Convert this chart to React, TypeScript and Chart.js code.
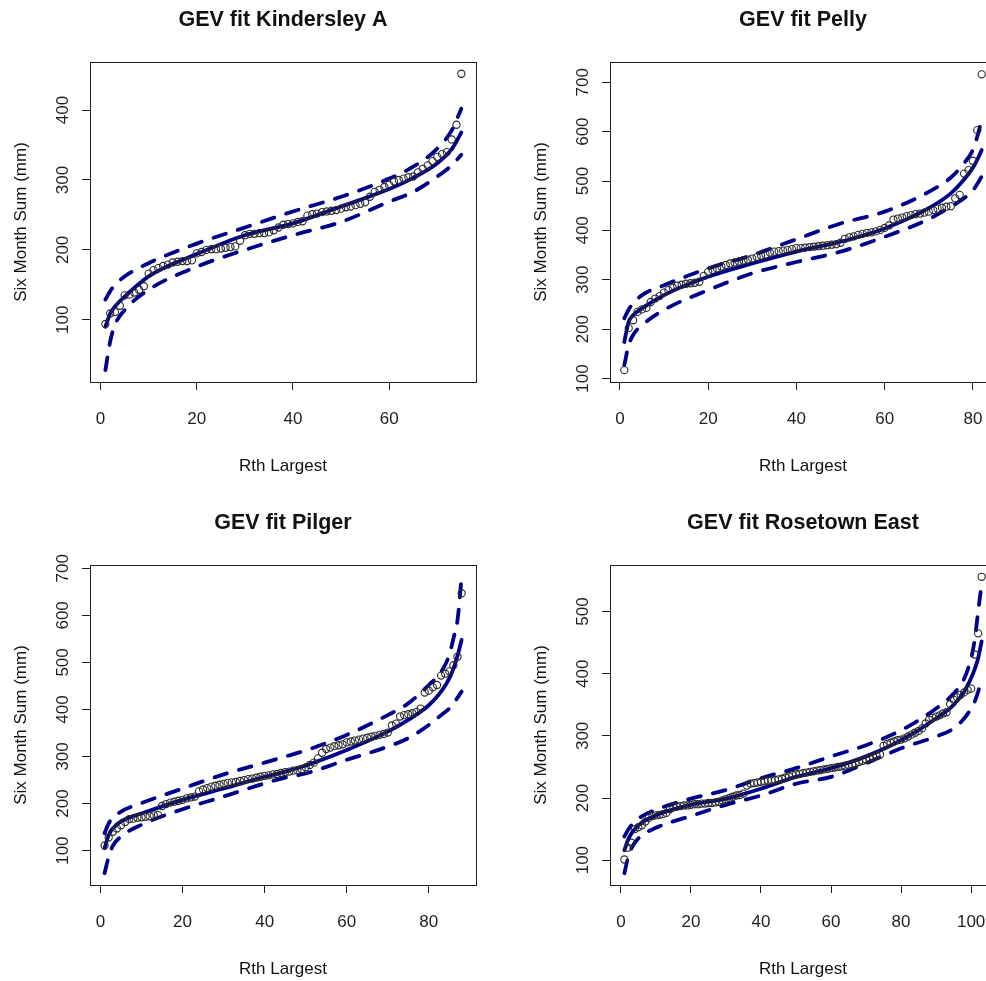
import React, { useEffect, useRef } from "react";
import { Chart, registerables } from "chart.js";

Chart.register(...registerables);

// ---------- Kindersley A ----------
const kinSums = [
  94, 109, 111, 120, 135, 136, 139, 143, 148, 166,
  171, 174, 177, 179, 182, 183, 184, 184, 185, 195,
  197, 200, 201, 201, 202, 203, 204, 205, 213, 221,
  223, 223, 224, 224, 225, 228, 232, 236, 237, 238,
  240, 241, 249, 251, 252, 254, 255, 256, 257, 259,
  261, 262, 264, 266, 268, 276, 283, 286, 290, 293,
  298, 300, 302, 304, 305, 311, 316, 321, 327, 333,
  337, 340, 358, 379, 452,
];
const kinCurveX = [1, 2, 3, 5, 10, 20, 30, 40, 50, 60, 65, 70, 73, 75];
const kinFit = [90, 109, 119, 133, 162, 194, 221, 238, 262, 287, 303, 324, 344, 368];
const kinUpper = [129, 141, 150, 162, 181, 209, 232, 255, 276, 302, 319, 345, 371, 402];
const kinLower = [28, 69, 93, 114, 143, 176, 200, 221, 240, 269, 283, 305, 321, 336];
const kinXTicks = [0, 20, 40, 60];
const kinYTicks = [100, 200, 300, 400];

// ---------- Pelly ----------
const pelSums = [
  117, 202, 218, 235, 240, 243, 255, 262, 267, 274,
  279, 284, 288, 290, 292, 293, 294, 296, 308, 316,
  320, 323, 327, 330, 333, 335, 337, 339, 341, 343,
  346, 349, 351, 355, 357, 358, 359, 360, 362, 364,
  364, 365, 366, 367, 368, 369, 370, 371, 372, 375,
  383, 386, 388, 391, 393, 395, 396, 398, 401, 405,
  410, 422, 424, 426, 429, 431, 433, 434, 436, 438,
  441, 444, 446, 448, 449, 465, 472, 515, 522, 541,
  603, 716,
];
const pelCurveX = [1, 2, 3, 5, 10, 20, 30, 40, 50, 60, 70, 75, 78, 80, 81, 82];
const pelFit = [174, 215, 228, 242, 269, 306, 333, 357, 377, 404, 445, 475, 503, 527, 543, 563];
const pelUpper = [222, 240, 252, 269, 289, 323, 350, 382, 414, 438, 478, 507, 536, 563, 590, 624];
const pelLower = [127, 168, 188, 208, 239, 279, 313, 336, 357, 387, 423, 448, 465, 481, 494, 509];
const pelXTicks = [0, 20, 40, 60, 80];
const pelYTicks = [100, 200, 300, 400, 500, 600, 700];

// ---------- Pilger ----------
const pilSums = [
  111, 128, 140, 147, 154, 161, 167, 168, 170, 171,
  172, 173, 175, 176, 195, 199, 202, 204, 206, 208,
  211, 213, 215, 226, 230, 233, 236, 238, 240, 242,
  244, 245, 246, 248, 250, 252, 253, 255, 257, 259,
  260, 262, 263, 265, 267, 268, 270, 271, 273, 277,
  282, 287, 296, 308, 316, 319, 322, 324, 326, 330,
  332, 334, 336, 338, 340, 342, 344, 346, 348, 351,
  366, 370, 385, 388, 390, 392, 395, 402, 436, 440,
  447, 452, 472, 476, 481, 494, 512, 647,
];
const pilCurveX = [1, 2, 3, 5, 10, 20, 30, 40, 45, 50, 60, 70, 75, 80, 83, 85, 86, 87, 88];
const pilFit = [105, 133, 147, 162, 179, 208, 232, 257, 268, 281, 314, 353, 378, 409, 438, 466, 487, 514, 548];
const pilUpper = [137, 158, 169, 183, 201, 232, 262, 287, 300, 313, 346, 388, 413, 452, 480, 516, 551, 590, 682];
const pilLower = [52, 87, 110, 130, 155, 188, 215, 243, 255, 264, 293, 321, 339, 367, 388, 402, 413, 425, 438];
const pilXTicks = [0, 20, 40, 60, 80];
const pilYTicks = [100, 200, 300, 400, 500, 600, 700];

// ---------- Rosetown East ----------
const rosSums = [
  101, 120, 128, 150, 153, 156, 162, 168, 171, 172,
  173, 174, 176, 182, 185, 186, 187, 188, 188, 189,
  190, 190, 191, 191, 192, 192, 193, 194, 196, 198,
  200, 202, 204, 205, 207, 220, 223, 224, 225, 226,
  227, 228, 228, 229, 230, 231, 233, 235, 237, 238,
  239, 240, 241, 242, 243, 244, 245, 246, 247, 248,
  249, 250, 251, 252, 253, 254, 255, 258, 260, 262,
  264, 266, 268, 270, 284, 287, 289, 291, 293, 294,
  296, 299, 302, 305, 308, 312, 320, 326, 329, 331,
  333, 336, 338, 351, 358, 362, 366, 370, 374, 376,
  431, 465, 556,
];
const rosCurveX = [1, 2, 3, 5, 10, 20, 30, 40, 50, 60, 70, 80, 90, 95, 98, 100, 101, 102, 103];
const rosFit = [116, 132, 143, 156, 172, 189, 199, 215, 234, 248, 267, 293, 328, 350, 371, 393, 407, 425, 452];
const rosUpper = [138, 148, 156, 167, 181, 199, 213, 232, 248, 267, 285, 309, 344, 368, 392, 425, 454, 500, 545];
const rosLower = [79, 103, 119, 135, 152, 171, 189, 204, 223, 234, 256, 280, 299, 312, 328, 344, 355, 371, 390];
const rosXTicks = [0, 20, 40, 60, 80, 100];
const rosYTicks = [100, 200, 300, 400, 500];

const FONT = "'Liberation Sans', Arial, Helvetica, sans-serif";
const LINE_COLOR = "#00008b";
const INK = "#1e1e1e";

type PanelSpec = {
  title: string;
  sums: number[];
  curveX: number[];
  fit: number[];
  upper: number[];
  lower: number[];
  xTicks: number[];
  yTicks: number[];
  xMin: number;
  xMax: number;
  yMin: number;
  yMax: number;
  left: number;
  top: number;
};

const panels: PanelSpec[] = [
  { title: "GEV fit Kindersley A", sums: kinSums, curveX: kinCurveX, fit: kinFit, upper: kinUpper, lower: kinLower,
    xTicks: kinXTicks, yTicks: kinYTicks, xMin: -2.2, xMax: 78.05, yMin: 11, yMax: 468.8, left: 0, top: 0 },
  { title: "GEV fit Pelly", sums: pelSums, curveX: pelCurveX, fit: pelFit, upper: pelUpper, lower: pelLower,
    xTicks: pelXTicks, yTicks: pelYTicks, xMin: -2.24, xMax: 85.24, yMin: 93, yMax: 741, left: 520, top: 0 },
  { title: "GEV fit Pilger", sums: pilSums, curveX: pilCurveX, fit: pilFit, upper: pilUpper, lower: pilLower,
    xTicks: pilXTicks, yTicks: pilYTicks, xMin: -2.55, xMax: 91.5, yMin: 27, yMax: 707, left: 0, top: 503 },
  { title: "GEV fit Rosetown East", sums: rosSums, curveX: rosCurveX, fit: rosFit, upper: rosUpper, lower: rosLower,
    xTicks: rosXTicks, yTicks: rosYTicks, xMin: -3.1, xMax: 107.1, yMin: 60, yMax: 575, left: 520, top: 503 },
];

const framePlugin = {
  id: "frame",
  beforeDatasetsDraw(chart: any) {
    const { ctx, chartArea: a } = chart;
    ctx.save();
    ctx.strokeStyle = INK;
    ctx.lineWidth = 1;
    ctx.strokeRect(Math.round(a.left) + 0.5, Math.round(a.top) + 0.5,
      Math.round(a.right - a.left), Math.round(a.bottom - a.top));
    ctx.restore();
  },
  afterDraw(chart: any, _args: any, opts: any) {
    const { ctx, chartArea: a } = chart;
    const cx = (a.left + a.right) / 2;
    ctx.save();
    ctx.fillStyle = "#111";
    ctx.textAlign = "center";
    ctx.textBaseline = "middle";
    ctx.font = `bold 21.5px ${FONT}`;
    ctx.fillText(opts.title, cx, 20.5);
    ctx.font = `17px ${FONT}`;
    ctx.fillText("Rth Largest", cx, 466);
    ctx.translate(21, (a.top + a.bottom) / 2);
    ctx.rotate(-Math.PI / 2);
    ctx.fillText("Six Month Sum (mm)", 0, 0);
    ctx.restore();
  },
};

function Panel({ spec }: { spec: PanelSpec }) {
  const ref = useRef<HTMLCanvasElement>(null);
  useEffect(() => {
    const canvas = ref.current;
    if (!canvas) return;
    const pts = spec.sums.map((v, i) => ({ x: i + 1, y: v }));
    const curve = (ys: number[]) => spec.curveX.map((x, i) => ({ x, y: ys[i] }));
    const lineDs = (ys: number[], dashed: boolean) => ({
      data: curve(ys),
      showLine: true,
      borderColor: LINE_COLOR,
      backgroundColor: LINE_COLOR,
      borderWidth: 3.8,
      borderDash: dashed ? [13, 12.5] : [],
      borderCapStyle: "round",
      borderJoinStyle: "round",
      cubicInterpolationMode: "monotone",
      pointRadius: 0,
      pointHoverRadius: 0,
      fill: false,
      order: 1,
    });
    const tickFont = { family: FONT, size: 17 };
    const chart = new Chart(canvas, {
      type: "scatter",
      data: {
        datasets: [
          {
            data: pts,
            showLine: false,
            pointStyle: "circle",
            pointRadius: 3.6,
            pointBorderWidth: 1.1,
            pointBorderColor: "#2a2a2a",
            pointBackgroundColor: "rgba(0,0,0,0)",
            order: 0,
          } as any,
          lineDs(spec.fit, false) as any,
          lineDs(spec.upper, true) as any,
          lineDs(spec.lower, true) as any,
        ],
      },
      options: {
        responsive: false,
        animation: false,
        devicePixelRatio: 1,
        events: [],
        layout: { padding: { left: 0, top: 62, right: 44, bottom: 0 } },
        plugins: {
          legend: { display: false },
          tooltip: { enabled: false },
          title: { display: false },
          frame: { title: spec.title },
        } as any,
        scales: {
          x: {
            type: "linear",
            position: "bottom",
            min: spec.xMin,
            max: spec.xMax,
            afterBuildTicks: (s: any) => {
              s.ticks = spec.xTicks.map((v) => ({ value: v }));
            },
            afterFit: (s: any) => {
              s.height = 122;
            },
            grid: { display: true, drawOnChartArea: false, drawTicks: true, tickLength: 8, color: INK, lineWidth: 1 },
            border: { display: false },
            ticks: { autoSkip: false, padding: 19, color: INK, font: tickFont, minRotation: 0, maxRotation: 0 },
          },
          y: {
            type: "linear",
            position: "left",
            min: spec.yMin,
            max: spec.yMax,
            afterBuildTicks: (s: any) => {
              s.ticks = spec.yTicks.map((v) => ({ value: v }));
            },
            afterFit: (s: any) => {
              s.width = 90;
            },
            grid: { display: true, drawOnChartArea: false, drawTicks: true, tickLength: 8, color: INK, lineWidth: 1 },
            border: { display: false },
            ticks: {
              autoSkip: false,
              padding: 5,
              color: INK,
              font: tickFont,
              minRotation: 90,
              maxRotation: 90,
              crossAlign: "center",
            },
          },
        },
      } as any,
      plugins: [framePlugin as any],
    });
    return () => chart.destroy();
  }, [spec]);
  return (
    <canvas
      ref={ref}
      width={520}
      height={504}
      style={{ position: "absolute", left: spec.left, top: spec.top, width: 520, height: 504, display: "block" }}
    />
  );
}

export default function App() {
  return (
    <div
      style={{
        position: "fixed",
        left: 0,
        top: 0,
        width: 986,
        height: 981,
        overflow: "hidden",
        background: "#fff",
      }}
    >
      {panels.map((p) => (
        <Panel key={p.title} spec={p} />
      ))}
    </div>
  );
}
